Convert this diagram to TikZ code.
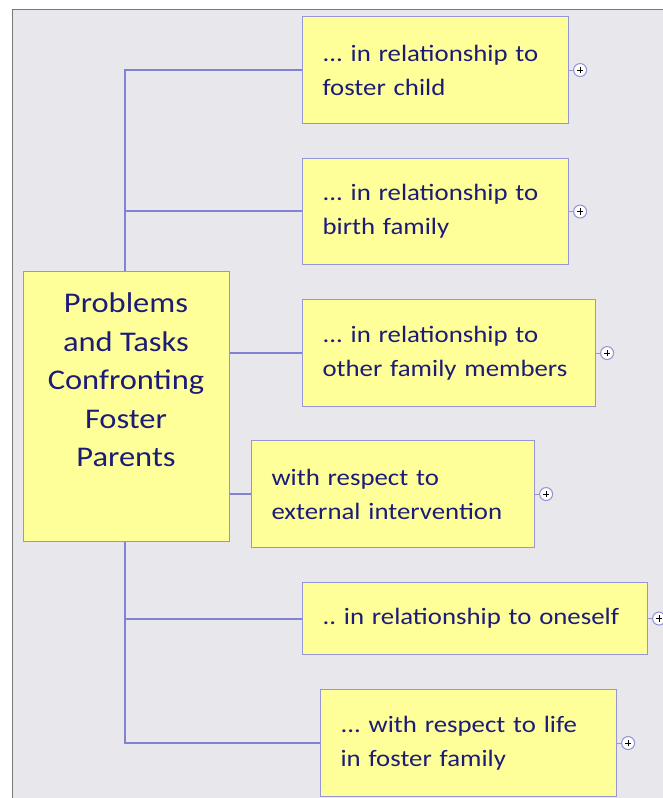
\documentclass[tikz,border=0pt]{standalone}
\usepackage{fontspec}
\setmainfont{Carlito}
\newfontfamily\topicfont[FakeStretch=1.14]{Carlito}
\frenchspacing
\definecolor{bgcol}{RGB}{232,232,236}
\definecolor{boxfill}{RGB}{255,255,153}
\definecolor{boxline}{RGB}{150,150,215}
\definecolor{linkcol}{RGB}{130,130,210}
\definecolor{txtcol}{RGB}{28,28,120}
\definecolor{framecol}{RGB}{120,120,120}
\tikzset{
  topicbox/.style={draw=boxline, fill=boxfill, line width=1.1pt, rectangle, anchor=north west,
    inner xsep=20pt, inner ysep=0pt, align=left, text=txtcol,
    font=\topicfont\fontsize{23.5}{34}\selectfont},
  rootbox/.style={draw=boxline, fill=boxfill, line width=1.1pt, rectangle, anchor=north west},
  roottext/.style={align=center, text=txtcol, font=\topicfont\fontsize{28.5}{38.5}\selectfont, anchor=north, inner sep=0pt},
  link/.style={draw=linkcol, line width=1.4pt},
  stub/.style={draw=boxline, line width=1pt},
  plusbtn/.style={circle, draw=boxline, fill=white, line width=1.1pt, minimum size=13pt, inner sep=0pt,
    path picture={\draw[black, line width=1.1pt] ([xshift=-3.2pt]path picture bounding box.center) -- ([xshift=3.2pt]path picture bounding box.center);
                  \draw[black, line width=1.1pt] ([yshift=-3.2pt]path picture bounding box.center) -- ([yshift=3.2pt]path picture bounding box.center);}}
}
\begin{document}
\begin{tikzpicture}[x=1pt,y=-1pt]
\useasboundingbox (0,0) rectangle (663,798);
\clip (0,0) rectangle (663,798);
\fill[white] (0,0) rectangle (663,798);
\draw[framecol, fill=bgcol, line width=0.8pt] (12,9) rectangle (680,810);

% trunk coordinates
\coordinate (t1) at (125,70);
\coordinate (t2) at (125,211);
\coordinate (t5) at (125,619);
\coordinate (t6) at (125,743);

% root
\node[rootbox, minimum width=206pt, minimum height=270pt] (root) at (23,271) {};
\node[roottext] (rt) at (126,293) {Problems\\and Tasks\\Confronting\\Foster\\Parents};

% topics
\node[topicbox, minimum width=266pt, minimum height=107pt, text width=226pt] (b1) at (302,16) {... in relationship to\\foster child};
\node[topicbox, minimum width=266pt, minimum height=106pt, text width=226pt] (b2) at (302,158) {... in relationship to\\birth family};
\node[topicbox, minimum width=293pt, minimum height=107pt, text width=253pt] (b3) at (302,299) {... in relationship to\\other family members};
\node[topicbox, minimum width=283pt, minimum height=107pt, text width=243pt] (b4) at (251,440) {with respect to\\external intervention};
\node[topicbox, minimum width=345pt, minimum height=72pt, text width=305pt] (b5) at (302,582) {.. in relationship to oneself};
\node[topicbox, minimum width=296pt, minimum height=107pt, text width=256pt] (b6) at (320,689) {... with respect to life\\in foster family};

% links
\draw[link] (root.north -| t1) -- (t1) -- (b1.west |- t1);
\draw[link] (t2) -- (b2.west |- t2);
\draw[link] (root.south -| t6) -- (t6) -- (b6.west |- t6);
\draw[link] (t5) -- (b5.west |- t5);
\draw[link] (root.east |- b3.west) -- (b3.west);
\draw[link] (root.east |- b4.west) -- (b4.west);

% plus buttons
\foreach \i in {1,...,6}{
  \node[plusbtn] (p\i) at ([xshift=11pt]b\i.east) {};
  \draw[stub] (b\i.east) -- (p\i.west);
}
\end{tikzpicture}
\end{document}
